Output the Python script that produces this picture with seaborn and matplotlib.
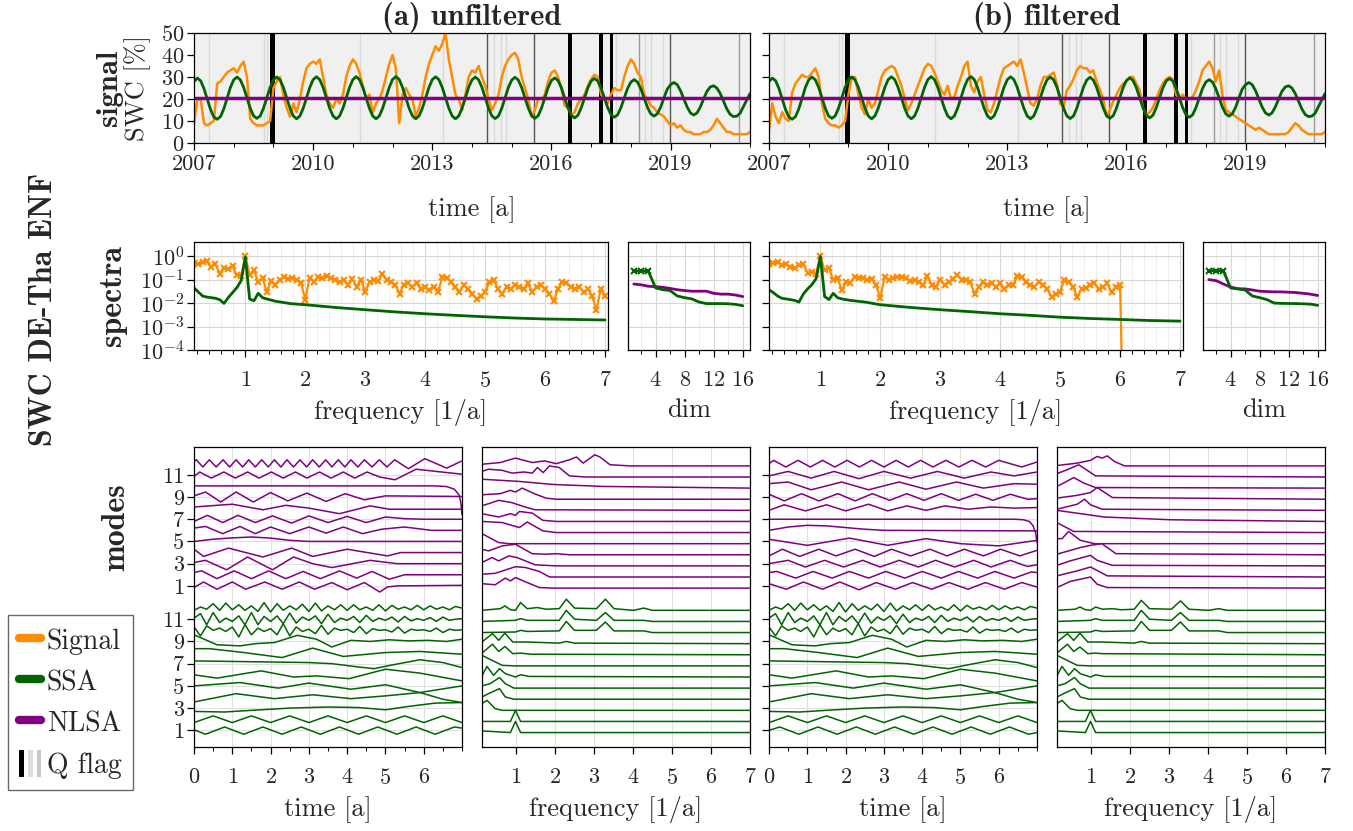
import sys
import numpy as np
import matplotlib
matplotlib.use("Agg")
import matplotlib.pyplot as plt
import seaborn as sns
from matplotlib.lines import Line2D
from matplotlib.patches import Patch
from matplotlib.legend_handler import HandlerTuple
from matplotlib.ticker import MultipleLocator, FixedLocator, NullLocator, LogFormatterSciNotation

sns.set_theme(style="ticks")
plt.rcParams['font.family'] = ['cmr10', 'DejaVu Serif']
plt.rcParams['mathtext.fontset'] = 'cm'
plt.rcParams['axes.formatter.use_mathtext'] = True
plt.rcParams['axes.unicode_minus'] = False

ORANGE = '#ff8c00'
GREEN = '#006400'
PURPLE = '#800080'
BOLD = 'cmb10'
TICK_FS = 16
LABEL_FS = 19
BOLD_FS = 23
TITLE_FS = 22

# ---------------- signal panel data (monthly readings, 2007.0 .. 2021.0) ----------------
signal_unfiltered = [
    9, 20, 20, 9, 8, 9, 10, 27, 28, 30, 32, 33,
    34, 32, 35, 37, 30, 11, 9, 8, 8, 8, 9, 10,
    25, 28, 30, 22, 16, 12, 18, 14, 20, 28, 34, 36,
    37, 36, 38, 30, 22, 18, 16, 20, 18, 22, 30, 35,
    38, 36, 32, 26, 20, 22, 14, 18, 20, 24, 30, 36,
    40, 34, 9, 22, 25, 22, 20, 12, 16, 22, 30, 36,
    40, 44, 42, 45, 50, 38, 30, 22, 20, 15, 22, 30,
    33, 32, 35, 30, 26, 20, 15, 18, 22, 30, 35, 38,
    40, 41, 38, 30, 25, 20, 12, 15, 20, 20, 22, 28,
    32, 33, 30, 25, 17, 16, 13, 14, 18, 20, 22, 26,
    29, 31, 30, 22, 20, 18, 22, 25, 24, 24, 30, 35,
    38, 36, 32, 30, 22, 20, 17, 16, 14, 13, 12, 10,
    8, 9, 7, 8, 6, 5, 5, 4, 4, 4, 5, 5,
    6, 8, 11, 9, 7, 5, 5, 4, 4, 4, 4, 4,
    5]
signal_filtered = [
    6, 18, 12, 9, 14, 11, 10, 23, 27, 29, 31, 30,
    30, 32, 34, 30, 18, 11, 9, 8, 8, 7, 8, 10,
    22, 30, 30, 22, 16, 13, 20, 16, 18, 24, 30, 33,
    34, 35, 34, 30, 26, 20, 15, 18, 22, 26, 30, 34,
    36, 35, 32, 28, 24, 22, 26, 20, 21, 26, 30, 35,
    37, 26, 23, 28, 30, 22, 15, 14, 18, 24, 30, 34,
    35, 36, 37, 35, 38, 32, 25, 18, 17, 20, 26, 30,
    30, 31, 32, 27, 18, 16, 24, 26, 29, 33, 35, 34,
    34, 32, 33, 28, 24, 20, 12, 15, 19, 22, 25, 27,
    28, 30, 30, 27, 24, 16, 13, 14, 16, 20, 24, 27,
    29, 30, 29, 22, 20, 22, 20, 20, 21, 24, 28, 33,
    35, 37, 34, 28, 33, 22, 15, 14, 13, 12, 11, 10,
    9, 8, 7, 6, 7, 6, 5, 4, 4, 4, 4, 4,
    4, 5, 7, 9, 8, 6, 5, 4, 4, 4, 4, 4,
    5]
ssa_signal = [
    28.0, 29.5, 28.3, 24.8, 20.0, 15.2, 11.8, 10.8, 12.0, 15.5, 20.3, 25.3,
    28.7, 30.0, 28.7, 25.3, 20.5, 15.8, 12.3, 11.2, 12.3, 15.8, 20.5, 25.3,
    28.7, 30.0, 28.7, 25.3, 20.5, 15.8, 12.3, 11.0, 12.3, 15.8, 20.5, 25.3,
    28.8, 30.1, 28.8, 25.3, 20.5, 15.8, 12.3, 11.0, 12.3, 15.8, 20.5, 25.3,
    28.8, 30.2, 28.8, 25.3, 20.5, 15.8, 12.3, 11.0, 12.3, 15.8, 20.5, 25.3,
    28.9, 30.2, 28.9, 25.3, 20.5, 15.8, 12.3, 11.0, 12.3, 15.8, 20.5, 25.3,
    28.8, 30.1, 28.8, 25.3, 20.5, 15.8, 12.3, 11.0, 12.3, 15.8, 20.5, 25.3,
    28.7, 30.0, 28.7, 25.3, 20.5, 15.8, 12.3, 11.1, 12.3, 15.8, 20.5, 25.3,
    28.6, 29.9, 28.6, 25.2, 20.5, 15.9, 12.4, 11.2, 12.4, 15.9, 20.5, 25.2,
    28.4, 29.6, 28.4, 25.1, 20.5, 16.0, 12.6, 11.4, 12.6, 16.0, 20.5, 25.0,
    28.2, 29.3, 28.2, 24.9, 20.5, 16.1, 12.8, 11.7, 12.8, 16.1, 20.5, 24.8,
    27.7, 28.8, 27.7, 24.7, 20.5, 16.3, 13.3, 12.2, 13.3, 16.3, 20.5, 24.5,
    26.5, 27.5, 26.5, 23.8, 20.1, 16.4, 13.7, 12.7, 13.7, 16.4, 20.1, 23.5,
    25.5, 26.0, 25.0, 22.5, 19.0, 15.5, 13.0, 12.0, 12.2, 13.5, 16.5, 19.5,
    22.5]
nlsa_signal_time = [2007.0, 2021.0]
nlsa_signal = [20.6, 20.6]

# quality flags
qflag_black = [(2008.92, 2009.03), (2016.41, 2016.51), (2017.19, 2017.31), (2017.48, 2017.55)]
qflag_dark = [2014.39, 2015.55, 2018.99]
qflag_mid = [2018.2, 2020.73]
qflag_light = [2007.39, 2008.76, 2008.85, 2011.17, 2013.27, 2014.55, 2014.72, 2014.85,
               2017.62, 2018.35, 2018.5, 2018.8]
qflag_span = [(2007.0, 2021.0)]

# ---------------- spectra data ----------------
spec_signal_a = [
    0.5, 0.45, 0.55, 0.6, 0.35, 0.45, 0.18, 0.3, 0.28, 0.38, 0.15, 0.14, 1.0,
    0.15, 0.25, 0.08, 0.12, 0.03, 0.09, 0.06, 0.1, 0.13, 0.11, 0.12, 0.1, 0.07, 0.014,
    0.12, 0.08, 0.13, 0.12, 0.14, 0.12, 0.1, 0.08, 0.1, 0.06, 0.11, 0.05, 0.1, 0.03,
    0.08, 0.1, 0.09, 0.17, 0.1, 0.08, 0.06, 0.025, 0.06, 0.07, 0.05, 0.07, 0.04, 0.05,
    0.035, 0.05, 0.03, 0.13, 0.12, 0.08, 0.05, 0.03, 0.06, 0.04, 0.025, 0.015, 0.02, 0.03,
    0.08, 0.1, 0.04, 0.025, 0.05, 0.04, 0.06, 0.05, 0.04, 0.07, 0.03, 0.05, 0.06, 0.04,
    0.025, 0.012, 0.04, 0.08, 0.07, 0.05, 0.04, 0.05, 0.03, 0.04, 0.02, 0.005, 0.04, 0.02]
spec_signal_b = [
    0.45, 0.5, 0.55, 0.4, 0.45, 0.35, 0.3, 0.4, 0.45, 0.2, 0.22, 0.18, 1.0,
    0.25, 0.3, 0.1, 0.12, 0.035, 0.08, 0.075, 0.13, 0.12, 0.12, 0.1, 0.11, 0.06, 0.016,
    0.13, 0.1, 0.12, 0.13, 0.13, 0.12, 0.09, 0.1, 0.08, 0.06, 0.14, 0.06, 0.05, 0.1,
    0.06, 0.08, 0.11, 0.16, 0.1, 0.1, 0.08, 0.025, 0.05, 0.08, 0.06, 0.07, 0.05, 0.07,
    0.04, 0.06, 0.06, 0.14, 0.13, 0.08, 0.06, 0.05, 0.08, 0.06, 0.04, 0.018, 0.025, 0.03,
    0.1, 0.08, 0.05, 0.018, 0.04, 0.045, 0.06, 0.07, 0.04, 0.05, 0.07, 0.03, 0.05, 0.06,
    1e-9]
spec_ssa_freq = [0.143, 0.214, 0.286, 0.357, 0.429, 0.5, 0.571, 0.643, 0.714, 0.786, 0.857,
                 0.929, 1.0, 1.071, 1.143, 1.214, 1.286, 1.357, 1.5, 1.75, 2.0, 2.5, 3.0,
                 3.5, 4.0, 4.5, 5.0, 5.5, 6.0, 6.5, 7.0]
spec_ssa_a = [0.044, 0.03, 0.02, 0.018, 0.017, 0.016, 0.014, 0.0097, 0.017, 0.028, 0.045,
              0.09, 0.9, 0.015, 0.0125, 0.026, 0.017, 0.015, 0.012, 0.0095, 0.0085, 0.0065,
              0.0052, 0.0042, 0.0035, 0.003, 0.0026, 0.0023, 0.0021, 0.002, 0.0019]
spec_ssa_b = [0.037, 0.028, 0.02, 0.016, 0.015, 0.014, 0.013, 0.011, 0.024, 0.04, 0.06,
              0.11, 0.95, 0.019, 0.014, 0.026, 0.017, 0.015, 0.013, 0.011, 0.0085, 0.0065,
              0.0052, 0.0043, 0.0035, 0.003, 0.0025, 0.0022, 0.002, 0.0018, 0.0017]

dims = list(range(1, 17))
dim_ssa_a = [0.23, 0.23, 0.23, 0.044, 0.037, 0.034, 0.02, 0.017, 0.015, 0.011, 0.0095,
             0.0095, 0.0095, 0.0093, 0.0088, 0.0077]
dim_nlsa_a = [0.065, 0.06, 0.052, 0.05, 0.047, 0.042, 0.037, 0.034, 0.032, 0.032, 0.032,
              0.026, 0.024, 0.024, 0.022, 0.019]
dim_ssa_b = [0.24, 0.24, 0.24, 0.044, 0.04, 0.036, 0.02, 0.017, 0.014, 0.01, 0.0097,
             0.0096, 0.0095, 0.0093, 0.009, 0.008]
dim_nlsa_b = [0.1, 0.09, 0.065, 0.048, 0.041, 0.04, 0.036, 0.032, 0.031, 0.03, 0.03,
              0.029, 0.028, 0.026, 0.024, 0.021]

# ---------------- mode data: (time knots, values) per mode 1..12 ----------------
nlsa_time_a = [
    ([0, 0.25, 0.6, 1.0, 1.35, 1.85, 2.3, 2.75, 3.15, 3.6, 4.0, 4.45, 4.85, 5.05, 5.3, 7.0],
     [-0.15, 0.35, -0.3, 0.35, -0.3, 0.35, -0.3, 0.35, -0.3, 0.3, -0.35, 0.3, -0.55, -0.1, 0.0, 0.05]),
    ([0, 0.2, 0.6, 1.05, 1.5, 1.95, 2.4, 2.85, 3.3, 3.8, 4.25, 4.65, 5.1, 5.5, 7.0],
     [0.2, 0.35, -0.35, 0.35, -0.35, 0.35, -0.35, 0.3, -0.35, 0.35, -0.3, 0.3, -0.4, 0.0, 0.0]),
    ([0, 0.3, 0.85, 1.4, 2.05, 2.6, 3.1, 3.6, 4.6, 5.3, 7.0],
     [0.1, 0.3, -0.55, 0.6, -0.55, 0.6, 0.0, -0.35, 0.3, 0.0, 0.0]),
    ([0, 0.25, 0.9, 1.8, 2.55, 3.1, 4.0, 5.05, 5.4, 7.0],
     [0.3, -0.35, 0.4, -0.4, 0.4, -0.35, 0.3, -0.3, 0.0, 0.0]),
    ([0, 0.5, 1.0, 1.5, 2.0, 2.5, 3.0, 7.0],
     [0, 0.2, 0.32, 0.4, 0.3, 0.1, 0, 0]),
    ([0, 0.3, 0.75, 1.2, 1.6, 2.0, 2.5, 3.0, 3.45, 3.9, 4.4, 4.9, 5.5, 6.2, 7.0],
     [0.2, 0.35, -0.3, 0.35, -0.3, 0.3, -0.3, 0.3, -0.25, 0.3, -0.3, 0.1, 0.3, 0, 0]),
    ([0, 0.35, 0.75, 1.15, 1.6, 2.05, 2.55, 3.0, 3.5, 4.0, 4.5, 5.0, 5.5, 6.0, 7.0],
     [-0.2, 0.35, -0.3, 0.35, -0.3, 0.3, -0.35, 0.3, -0.3, 0.25, -0.3, 0.2, 0.05, 0, 0]),
    ([0, 1.0, 1.8, 2.4, 3.0, 3.8, 4.6, 5.1, 7.0],
     [0.1, 0.35, -0.15, 0.25, 0.0, -0.5, 0.2, -0.1, -0.1]),
    ([0, 0.3, 0.7, 1.1, 1.55, 2.0, 2.45, 2.95, 3.45, 3.95, 4.45, 5.0, 7.0],
     [0.1, 0.45, -0.45, 0.45, -0.45, 0.4, -0.35, 0.35, -0.4, 0.3, -0.25, 0.1, 0.05]),
    ([0, 6.3, 6.6, 6.8, 6.92, 6.97, 7.0],
     [0, 0, -0.06, -0.3, -0.8, -1.5, -2.6]),
    ([0, 0.15, 0.45, 0.78, 1.08, 1.4, 1.7, 2.02, 2.33, 2.65, 2.95, 3.28, 3.58, 3.9, 4.2, 4.52, 4.85, 5.25, 5.8, 7.0],
     [-0.15, 0.25, -0.3, 0.25, -0.3, 0.25, -0.3, 0.25, -0.3, 0.25, -0.3, 0.25, -0.3, 0.25, -0.3, 0.25, -0.2, -0.45, 0.5, 0.05]),
    ([0, 0.06, 0.23, 0.4, 0.58, 0.76, 0.93, 1.1, 1.27, 1.43, 1.6, 1.77, 1.94, 2.1, 2.27, 2.43, 2.6, 2.77,
      2.94, 3.1, 3.27, 3.44, 3.6, 3.77, 3.94, 4.1, 4.28, 4.45, 4.65, 4.84, 5.04, 5.24, 5.6, 6.03, 6.6, 7.0],
     [0.2, 0.35, -0.3, 0.35, -0.3, 0.35, -0.3, 0.35, -0.3, 0.35, -0.3, 0.35, -0.3, 0.35, -0.3, 0.35, -0.3, 0.35,
      -0.3, 0.35, -0.3, 0.35, -0.3, 0.35, -0.3, 0.35, -0.3, 0.35, -0.3, 0.35, -0.3, 0.35, -0.45, 0.45, -0.4, 0.25]),
]

fast_t = [0, 0.17, 0.33, 0.5, 0.67, 0.83, 1.0, 1.17, 1.33, 1.5, 1.67, 1.83, 2.0, 2.17, 2.33, 2.5,
          2.67, 2.83, 3.0, 3.17, 3.33, 3.5, 3.67, 3.83, 4.0, 4.17, 4.33, 4.5, 4.67, 4.83, 5.0,
          5.17, 5.33, 5.5, 5.67, 5.83, 6.0, 6.17, 6.33, 6.5, 6.67, 6.83, 7.0]
ssa_g10 = [0.3, -0.5, 0.4, 0.0, 0.2, -0.1, 0.3, -0.6, 0.5, -0.4, 0.2, -0.1, 0.15, -0.4, 0.6, -0.5,
           0.3, -0.1, 0.1, -0.3, 0.45, -0.35, 0.2, 0.0, 0.1, -0.2, 0.35, -0.3, 0.15, 0.0, 0.05,
           -0.15, 0.3, -0.25, 0.1, 0.0, 0.05, -0.1, 0.2, -0.2, 0.1, 0.0, 0.05]
ssa_g11 = [0.1, 0.5, -0.5, 0.6, -0.3, 0.1, -0.2, 0.3, -0.5, 0.6, -0.5, 0.25, -0.2, 0.3, -0.4, 0.55,
           -0.35, 0.2, -0.1, 0.3, -0.4, 0.45, -0.3, 0.1, -0.1, 0.25, -0.3, 0.35, -0.2, 0.1, -0.1,
           0.2, -0.25, 0.25, -0.15, 0.05, -0.1, 0.15, -0.2, 0.2, -0.1, 0.0, 0.05]
ssa_g12 = [-0.2, 0.1, -0.1, 0.4, -0.2, 0.45, -0.15, 0.3, -0.2, 0.2, -0.3, 0.5, -0.35, 0.4, -0.2, 0.2,
           -0.15, 0.35, -0.3, 0.45, -0.25, 0.2, -0.15, 0.3, -0.2, 0.3, -0.15, 0.1, -0.2, 0.3, -0.25,
           0.25, -0.1, 0.1, -0.15, 0.25, -0.15, 0.2, -0.1, 0.1, -0.15, 0.15, 0.0]

ssa_time_a = [
    ([0, 0.3, 0.8, 1.3, 1.8, 2.3, 2.8, 3.3, 3.8, 4.3, 4.8, 5.3, 5.8, 6.3, 6.8, 7.0],
     [0.05, -0.35, 0.3, -0.35, 0.3, -0.35, 0.3, -0.35, 0.3, -0.35, 0.3, -0.35, 0.3, -0.35, 0.3, 0.2]),
    ([0, 0.5, 1.0, 1.5, 2.0, 2.5, 3.0, 3.5, 4.0, 4.5, 5.0, 5.5, 6.0, 6.5, 7.0],
     [-0.3, 0.3, -0.3, 0.3, -0.3, 0.3, -0.3, 0.3, -0.3, 0.3, -0.3, 0.3, -0.3, 0.3, -0.3]),
    ([0, 0.8, 1.5, 2.5, 3.5, 4.3, 5.0, 5.6, 6.3, 7.0],
     [-0.3, -0.35, -0.2, 0.0, 0.1, 0.05, -0.15, 0.15, 0.45, 0.5]),
    ([0, 1.1, 2.1, 3.1, 4.1, 5.0, 5.9, 6.5, 7.0],
     [-0.45, 0.3, -0.15, 0.2, -0.15, 0.1, 0.4, -0.2, -0.5]),
    ([0, 1.2, 2.2, 3.0, 4.1, 5.0, 5.9, 7.0],
     [0, 0.3, -0.2, 0.25, -0.3, 0.1, -0.6, 0.0]),
    ([0, 0.6, 1.75, 2.6, 3.2, 4.05, 5.0, 5.9, 7.0],
     [0, -0.3, 0.35, -0.2, -0.1, -0.35, 0.5, 0.15, -0.55]),
    ([0, 1.0, 2.0, 3.0, 3.6, 4.3, 4.7, 5.2, 5.9, 6.5, 7.0],
     [0.25, 0.2, 0.15, 0.1, 0.0, -0.3, -0.45, -0.1, 0.35, 0.1, -0.35]),
    ([0, 0.4, 1.3, 2.3, 3.1, 3.9, 5.0, 5.9, 7.0],
     [0.35, 0.35, 0.0, -0.45, 0.4, -0.35, 0.0, 0.1, -0.15]),
    ([0, 0.6, 1.2, 1.6, 2.1, 2.7, 3.2, 3.6, 4.1, 4.6, 5.1, 5.6, 6.1, 6.6, 7.0],
     [0.6, -0.3, -0.4, -0.2, -0.1, 0.55, 0.2, -0.5, 0.1, 0.0, 0.15, 0.05, 0.1, 0.0, 0.2]),
    (fast_t, ssa_g10),
    (fast_t, ssa_g11),
    (fast_t, ssa_g12),
]

nlsa_time_b = [
    ([0, 0.45, 0.9, 1.4, 1.85, 2.35, 2.8, 3.3, 3.75, 4.25, 4.7, 5.2, 5.65, 6.15, 6.6, 7.0],
     [0.2, -0.3, 0.35, -0.3, 0.35, -0.35, 0.3, -0.3, 0.3, -0.3, 0.3, -0.3, 0.3, -0.3, 0.3, -0.1]),
    ([0, 0.2, 0.7, 1.15, 1.65, 2.1, 2.6, 3.05, 3.55, 4.0, 4.5, 4.95, 5.45, 5.9, 6.4, 6.85, 7.0],
     [0.2, 0.3, -0.3, 0.3, -0.3, 0.3, -0.3, 0.3, -0.3, 0.3, -0.3, 0.3, -0.3, 0.3, -0.3, 0.25, 0.2]),
    ([0, 0.5, 0.95, 1.45, 1.95, 2.45, 2.9, 3.4, 3.9, 4.35, 4.85, 5.35, 5.8, 6.3, 6.75, 7.0],
     [0.0, 0.3, -0.3, 0.3, -0.3, 0.3, -0.3, 0.3, -0.3, 0.3, -0.3, 0.3, -0.3, 0.3, -0.25, -0.1]),
    ([0, 0.35, 0.8, 1.3, 1.75, 2.25, 2.75, 3.2, 3.7, 4.2, 4.65, 5.1, 5.6, 6.05, 6.55, 7.0],
     [-0.3, 0.3, -0.35, 0.3, -0.3, 0.3, -0.35, 0.3, -0.3, 0.3, -0.3, 0.3, -0.3, 0.3, -0.3, 0.2]),
    ([0, 1.0, 2.1, 3.1, 4.1, 5.0, 6.0, 7.0],
     [0.2, -0.35, 0.3, -0.35, 0.25, -0.2, -0.4, 0.1]),
    ([0, 0.5, 1.0, 1.5, 2.0, 2.5, 3.0, 7.0],
     [0.0, 0.3, 0.45, 0.4, 0.25, 0.1, 0.0, -0.05]),
    ([0, 6.4, 6.65, 6.8, 6.9, 6.97, 7.0],
     [0, 0, -0.05, -0.2, -0.6, -1.3, -2.1]),
    ([0, 0.4, 0.95, 1.5, 2.0, 2.6, 3.1, 3.6, 4.1, 4.6, 5.2, 5.8, 6.4, 7.0],
     [-0.2, 0.3, -0.25, 0.3, -0.25, 0.35, -0.25, 0.2, -0.2, 0.2, -0.1, 0.1, 0.0, 0.05]),
    ([0, 0.4, 0.85, 1.3, 1.8, 2.25, 2.7, 3.15, 3.6, 4.05, 4.5, 4.95, 5.4, 5.85, 6.3, 6.75, 7.0],
     [0.25, -0.35, 0.3, -0.35, 0.3, -0.35, 0.3, -0.3, 0.3, -0.3, 0.3, -0.3, 0.25, -0.3, 0.25, -0.2, -0.15]),
    ([0, 0.5, 1.1, 1.9, 2.6, 3.4, 4.1, 4.9, 5.6, 6.4, 7.0],
     [0.2, 0.35, -0.35, 0.35, -0.35, 0.35, -0.3, 0.35, -0.2, 0.2, 0.15]),
    ([0, 0.5, 1.1, 1.7, 2.35, 3.0, 3.7, 4.4, 5.1, 5.8, 6.4, 7.0],
     [-0.1, 0.3, -0.3, 0.3, -0.35, 0.3, -0.3, 0.3, -0.3, 0.25, -0.1, 0.25]),
    ([0, 0.12, 0.44, 0.76, 1.08, 1.4, 1.72, 2.04, 2.36, 2.68, 3.0, 3.32, 3.64, 3.96, 4.28, 4.62,
      4.96, 5.3, 5.66, 6.0, 6.6, 7.0],
     [0.0, 0.3, -0.3, 0.3, -0.3, 0.3, -0.3, 0.3, -0.3, 0.3, -0.3, 0.3, -0.3, 0.3, -0.3, 0.3,
      -0.3, 0.3, -0.3, 0.3, -0.3, 0.15]),
]

ssa_time_b = [
    ([0, 0.28, 0.78, 1.28, 1.78, 2.28, 2.78, 3.28, 3.78, 4.28, 4.78, 5.28, 5.78, 6.28, 6.78, 7.0],
     [0.0, 0.3, -0.35, 0.3, -0.35, 0.3, -0.35, 0.3, -0.35, 0.3, -0.35, 0.3, -0.35, 0.3, -0.35, -0.2]),
] + ssa_time_a[1:]

# spectra of modes: (frequency knots, relative height)
nlsa_freq_a = [
    ([0.14, 0.48, 0.74, 0.87, 1.0, 1.3, 1.61, 1.95, 7], [0.4, 0.3, 0.9, 0.65, 0.95, 0.5, 0.05, 0.0, 0.0]),
    ([0.14, 0.48, 1.0, 1.26, 1.61, 1.87, 7], [0.25, 0.33, 0.93, 0.85, 0.5, 0.0, 0.0]),
    ([0.14, 0.4, 0.57, 0.83, 1.04, 1.5, 2.04, 7], [0.3, 0.75, 0.45, 0.9, 0.75, 0.1, 0.0, 0.0]),
    ([0.14, 0.31, 0.66, 1.0, 1.22, 1.43, 1.78, 2.04, 2.38, 7], [0.5, 0.35, 0.8, 0.95, 0.5, 0.1, 0.05, 0.1, 0.0, 0.0]),
    ([0.14, 0.57, 0.83, 7], [0.9, 0.1, 0.0, 0.0]),
    ([0.14, 0.66, 1.1, 1.3, 1.7, 2.04, 7], [1.0, 0.9, 0.45, 0.95, 0.15, 0.0, 0.0]),
    ([0.14, 0.57, 0.87, 1.0, 1.1, 1.43, 1.7, 2.04, 7], [0.7, 0.4, 0.7, 0.55, 0.9, 0.75, 0.1, 0.0, 0.0]),
    ([0.14, 0.57, 0.9, 1.2, 1.5, 7], [0.4, 0.9, 0.7, 0.35, 0.05, 0.0]),
    ([0.14, 0.61, 0.87, 1.0, 1.17, 1.48, 1.78, 2.04, 7], [0.4, 0.5, 0.8, 0.65, 1.0, 0.5, 0.1, 0.0, 0.0]),
    ([0.14, 1.1, 1.95, 3.25, 7], [0.8, 0.6, 0.33, 0.15, 0.0]),
    ([0.14, 0.31, 0.66, 0.91, 1.22, 1.43, 1.56, 1.71, 1.87, 2.12, 2.38, 2.8, 7],
     [0.5, 0.7, 0.6, 0.35, 0.45, 0.35, 0.85, 0.4, 1.0, 0.85, 0.1, 0.0, 0.0]),
    ([0.14, 0.61, 1.0, 1.43, 1.74, 2.04, 2.38, 2.56, 2.73, 3.03, 3.16, 3.42, 3.94, 7],
     [0.15, 0.3, 0.7, 0.3, 0.45, 0.2, 0.55, 0.8, 0.25, 1.0, 0.8, 0.1, 0.0, 0.0]),
]
ssa_freq_a = [
    ([0.14, 0.87, 1.0, 1.13, 7], [0.15, 0.0, 1.0, 0.0, 0.0]),
    ([0.14, 0.87, 1.0, 1.13, 7], [0.0, 0.0, 1.0, 0.0, 0.0]),
    ([0.14, 0.27, 0.48, 0.66, 7], [0.6, 0.9, 0.15, 0.0, 0.0]),
    ([0.14, 0.31, 0.59, 0.74, 0.96, 7], [0.2, 0.5, 0.95, 0.2, 0.0, 0.0]),
    ([0.14, 0.35, 0.59, 0.74, 0.96, 7], [0.2, 0.4, 0.95, 0.4, 0.0, 0.0]),
    ([0.14, 0.27, 0.44, 0.59, 0.74, 1.0, 1.13, 1.35, 7], [0.1, 0.95, 0.15, 0.75, 0.3, 0.0, 0.2, 0.05, 0.0]),
    ([0.14, 0.4, 0.66, 1.0, 7], [0.95, 0.5, 0.05, 0.0, 0.0]),
    ([0.14, 0.41, 0.57, 0.73, 0.93, 1.13, 1.4, 7], [0.15, 0.95, 0.3, 0.75, 0.1, 0.15, 0.05, 0.0]),
    ([0.14, 0.41, 0.57, 0.73, 0.93, 1.3, 2.12, 2.3, 2.51, 7], [0.15, 0.9, 0.3, 0.95, 0.15, 0.15, 0.05, 0.2, 0.05, 0.0]),
    ([0.14, 1.0, 1.13, 1.3, 2.12, 2.3, 2.51, 3.07, 3.3, 3.52, 4.28, 4.5, 7],
     [0.0, 0.05, 0.2, 0.1, 0.15, 1.0, 0.2, 0.2, 0.95, 0.15, 0.15, 0.0, 0.0]),
    ([0.14, 1.0, 1.13, 1.3, 2.12, 2.3, 2.51, 3.07, 3.3, 3.52, 4.28, 4.5, 7],
     [0.0, 0.1, 0.25, 0.1, 0.1, 1.0, 0.2, 0.1, 0.8, 0.1, 0.1, 0.0, 0.0]),
    ([0.14, 0.61, 0.73, 0.87, 1.0, 1.13, 1.3, 1.56, 1.78, 2.12, 2.3, 2.51, 3.07, 3.3, 3.52, 4.02, 4.28, 4.5, 7],
     [0.0, 0.15, 0.4, 0.05, 0.0, 0.7, 0.15, 0.25, 0.1, 0.15, 1.0, 0.2, 0.15, 1.0, 0.15, 0.0, 0.2, 0.0, 0.0]),
]
nlsa_freq_b = [
    ([0.14, 0.48, 1.0, 1.17, 1.43, 7], [0.05, 0.6, 1.0, 0.35, 0.05, 0.0]),
    ([0.14, 0.31, 0.66, 1.0, 1.43, 7], [0.1, 0.25, 0.55, 0.9, 0.1, 0.0]),
    ([0.14, 0.48, 1.0, 1.17, 1.56, 7], [0.05, 0.45, 0.95, 0.5, 0.05, 0.0]),
    ([0.14, 0.74, 1.0, 1.29, 1.65, 7], [0.05, 0.65, 0.85, 1.0, 0.1, 0.0]),
    ([0.14, 0.27, 0.44, 0.74, 1.1, 7], [0.45, 0.45, 1.1, 0.3, 0.0, 0.0]),
    ([0.14, 0.57, 7], [0.9, 0.1, 0.0]),
    ([0.14, 1.35, 3.07, 7], [1.0, 0.4, 0.15, 0.0]),
    ([0.14, 0.66, 0.85, 1.0, 1.3, 7], [0.1, 0.55, 1.0, 0.5, 0.1, 0.0]),
    ([0.14, 0.66, 1.0, 1.17, 1.56, 7], [0.1, 0.35, 0.6, 1.05, 0.15, 0.0]),
    ([0.14, 0.31, 0.57, 0.83, 1.13, 7], [0.15, 0.45, 0.95, 0.45, 0.05, 0.0]),
    ([0.14, 0.4, 0.7, 1.13, 7], [0.3, 0.65, 1.1, 0.1, 0.0]),
    ([0.14, 0.66, 1.0, 1.17, 1.3, 1.43, 1.61, 1.87, 7], [0.03, 0.25, 0.5, 0.85, 0.7, 0.9, 0.4, 0.0, 0.0]),
]
ssa_freq_b = ssa_freq_a[:7] + [
    ([0.14, 0.41, 0.57, 0.73, 0.93, 1.13, 1.3, 7], [0.15, 0.95, 0.3, 0.7, 0.1, 0.15, 0.1, 0.0]),
] + ssa_freq_a[8:11] + [
    ([0.14, 0.61, 0.73, 0.87, 1.0, 1.13, 1.3, 1.56, 1.78, 2.12, 2.3, 2.51, 3.07, 3.3, 3.52, 4.02, 4.28, 4.5, 7],
     [0.0, 0.1, 0.3, 0.05, 0.0, 0.3, 0.1, 0.15, 0.05, 0.1, 0.9, 0.15, 0.1, 0.85, 0.1, 0.0, 0.15, 0.0, 0.0]),
]

years_major = [2007, 2010, 2013, 2016, 2019]
mode_tick_labels = ['1', '3', '5', '7', '9', '11']
NLSA_SHIFT = 13

# ---------------- layout ----------------
W, H = 1353, 831
fig = plt.figure(figsize=(W / 100, H / 100), dpi=100)


def rect(x0, y0, x1, y1):
    return [x0 / W, 1 - y1 / H, (x1 - x0) / W, (y1 - y0) / H]


def line(ax, x, y, color, lw, **kw):
    x = list(x)
    y = list(y)
    n = min(len(x), len(y))
    if len(x) != len(y):
        print('length mismatch', len(x), len(y), file=sys.stderr)
    sns.lineplot(x=x[:n], y=y[:n], ax=ax, color=color, linewidth=lw, legend=False,
                 estimator=None, sort=False, **kw)


def style_axis(ax):
    for s in ax.spines.values():
        s.set_color('black')
        s.set_linewidth(0.9)
    ax.tick_params(which='major', direction='out', length=5, width=0.9, labelsize=TICK_FS, color='black')
    ax.tick_params(which='minor', direction='out', length=3, width=0.7, color='black')


def signal_panel(ax, sig, title):
    for (a, b) in qflag_span:
        ax.axvspan(a, b, color='#f0f0f0', lw=0, zorder=0)
    for x in qflag_light:
        ax.axvline(x, color='#dadada', lw=1.0, zorder=0.5)
    for x in qflag_mid:
        ax.axvline(x, color='#9a9a9a', lw=1.0, zorder=0.6)
    for x in qflag_dark:
        ax.axvline(x, color='#555555', lw=1.0, zorder=0.7)
    for (a, b) in qflag_black:
        ax.axvspan(a, b, color='black', lw=0, zorder=0.8)
    t = 2007 + np.arange(len(sig)) / 12.0
    line(ax, t, sig, ORANGE, 1.8)
    t2 = 2007 + np.arange(len(ssa_signal)) / 12.0
    line(ax, t2, ssa_signal, GREEN, 2.0)
    line(ax, nlsa_signal_time, nlsa_signal, PURPLE, 2.5)
    ax.set_xlim(2007, 2021)
    ax.set_ylim(0, 50)
    ax.set_xticks(years_major)
    ax.set_xticklabels([str(y) for y in years_major])
    ax.xaxis.set_minor_locator(MultipleLocator(1))
    ax.set_yticks([0, 10, 20, 30, 40, 50])
    style_axis(ax)
    ax.tick_params(axis='x', which='major', pad=3)
    ax.tick_params(axis='y', which='major', pad=2)
    ax.set_xlabel('time [a]', fontsize=LABEL_FS, labelpad=16)
    ax.set_ylabel('')
    ax.set_title(title, fontfamily=BOLD, fontsize=TITLE_FS, pad=3)


def spectrum_panel(ax, spec_sig, spec_ssa, show_ylabels):
    f = np.arange(2, 2 + len(spec_sig)) / 14.0
    line(ax, f, spec_sig, ORANGE, 1.6, marker='x', markersize=5, markeredgewidth=1.5,
         markeredgecolor=ORANGE)
    line(ax, spec_ssa_freq, spec_ssa, GREEN, 2.0)
    ax.set_yscale('log')
    ax.set_ylim(1e-4, 4)
    ax.set_xlim(1 / 7, 7.05)
    ax.set_xticks([1, 2, 3, 4, 5, 6, 7])
    ax.xaxis.set_minor_locator(MultipleLocator(0.2))
    ax.yaxis.set_major_locator(FixedLocator([1e-4, 1e-3, 1e-2, 1e-1, 1e0]))
    ax.yaxis.set_major_formatter(LogFormatterSciNotation())
    ax.yaxis.set_minor_locator(NullLocator())
    ax.grid(True, which='major', color='#d8d8d8', lw=0.8)
    ax.grid(True, which='minor', axis='x', color='#ececec', lw=0.6)
    style_axis(ax)
    ax.tick_params(axis='x', which='major', pad=10)
    ax.tick_params(axis='y', which='major', pad=2)
    if not show_ylabels:
        ax.tick_params(axis='y', labelleft=False)
    ax.set_xlabel('frequency [1/a]', fontsize=LABEL_FS, labelpad=6)
    ax.set_ylabel('')


def dim_panel(ax, d_ssa, d_nlsa):
    line(ax, dims, d_nlsa, PURPLE, 2.0)
    line(ax, dims, d_ssa, GREEN, 2.0, marker='x', markersize=5, markeredgewidth=1.5,
         markeredgecolor=GREEN, markevery=[0, 1, 2])
    ax.set_yscale('log')
    ax.set_ylim(1e-4, 4)
    ax.set_xlim(0.2, 17)
    ax.set_xticks([4, 8, 12, 16])
    ax.xaxis.set_minor_locator(MultipleLocator(2))
    ax.yaxis.set_major_locator(FixedLocator([1e-4, 1e-3, 1e-2, 1e-1, 1e0]))
    ax.yaxis.set_minor_locator(NullLocator())
    ax.grid(True, which='major', color='#d8d8d8', lw=0.8)
    ax.grid(True, which='minor', axis='x', color='#ececec', lw=0.6)
    style_axis(ax)
    ax.tick_params(axis='x', which='major', pad=10)
    ax.tick_params(axis='y', labelleft=False, length=0)
    ax.set_xlabel('dim', fontsize=LABEL_FS, labelpad=6)
    ax.set_ylabel('')


def mode_time_panel(ax, ssa_modes, nlsa_modes, show_ylabels):
    for k, (t, v) in enumerate(ssa_modes, start=1):
        line(ax, t, np.asarray(v) + k, GREEN, 1.1)
    for k, (t, v) in enumerate(nlsa_modes, start=1):
        line(ax, t, np.asarray(v) + k + NLSA_SHIFT, PURPLE, 1.1)
    ax.set_xlim(0, 7)
    ax.set_ylim(-0.5, 26.5)
    ax.set_xticks([0, 1, 2, 3, 4, 5, 6])
    ax.xaxis.set_minor_locator(MultipleLocator(0.5))
    pos = [1, 3, 5, 7, 9, 11] + [p + NLSA_SHIFT for p in [1, 3, 5, 7, 9, 11]]
    ax.set_yticks(pos)
    ax.set_yticklabels(mode_tick_labels + mode_tick_labels)
    ax.grid(True, which='major', color='#e0e0e0', lw=0.8)
    style_axis(ax)
    ax.tick_params(axis='x', which='major', pad=10)
    ax.tick_params(axis='y', which='major', pad=2)
    if not show_ylabels:
        ax.tick_params(axis='y', labelleft=False)
    ax.set_xlabel('time [a]', fontsize=LABEL_FS, labelpad=6)
    ax.set_ylabel('')


def mode_freq_panel(ax, ssa_modes, nlsa_modes):
    for k, (f, h) in enumerate(ssa_modes, start=1):
        line(ax, f, np.asarray(h) + k - 0.2, GREEN, 1.1)
    for k, (f, h) in enumerate(nlsa_modes, start=1):
        line(ax, f, np.asarray(h) + k + NLSA_SHIFT - 0.2, PURPLE, 1.1)
    ax.set_xlim(1 / 7, 7)
    ax.set_ylim(-0.5, 26.5)
    ax.set_xticks([1, 2, 3, 4, 5, 6, 7])
    ax.set_yticks([])
    ax.grid(True, which='major', axis='x', color='#e0e0e0', lw=0.8)
    style_axis(ax)
    ax.tick_params(axis='x', which='major', pad=10)
    ax.set_xlabel('frequency [1/a]', fontsize=LABEL_FS, labelpad=6)
    ax.set_ylabel('')


cols = [
    dict(x0=194, x1=750, spec1=608, dim0=628, t1=462, f0=482),
    dict(x0=769, x1=1325, spec1=1183, dim0=1203, t1=1037, f0=1057),
]
titles = ['(a) unfiltered', '(b) filtered']
signals = [signal_unfiltered, signal_filtered]
specs = [spec_signal_a, spec_signal_b]
specs_ssa = [spec_ssa_a, spec_ssa_b]
dims_ssa = [dim_ssa_a, dim_ssa_b]
dims_nlsa = [dim_nlsa_a, dim_nlsa_b]
ssa_t = [ssa_time_a, ssa_time_b]
nlsa_t = [nlsa_time_a, nlsa_time_b]
ssa_f = [ssa_freq_a, ssa_freq_b]
nlsa_f = [nlsa_freq_a, nlsa_freq_b]

for i, c in enumerate(cols):
    ax = fig.add_axes(rect(c['x0'], 33, c['x1'], 143))
    signal_panel(ax, signals[i], titles[i])
    if i == 1:
        ax.tick_params(axis='y', labelleft=False)
    ax = fig.add_axes(rect(c['x0'], 242, c['spec1'], 350))
    spectrum_panel(ax, specs[i], specs_ssa[i], i == 0)
    ax = fig.add_axes(rect(c['dim0'], 242, c['x1'], 350))
    dim_panel(ax, dims_ssa[i], dims_nlsa[i])
    ax = fig.add_axes(rect(c['x0'], 447, c['t1'], 747))
    mode_time_panel(ax, ssa_t[i], nlsa_t[i], i == 0)
    ax = fig.add_axes(rect(c['f0'], 447, c['x1'], 747))
    mode_freq_panel(ax, ssa_f[i], nlsa_f[i])

# row labels
fig.text(110 / W, 1 - 88 / H, 'signal', rotation=90, fontfamily=BOLD, fontsize=BOLD_FS - 1, ha='center', va='center')
fig.text(138 / W, 1 - 88 / H, 'SWC [%]', rotation=90, fontsize=LABEL_FS, ha='center', va='center')
fig.text(113 / W, 1 - 296 / H, 'spectra', rotation=90, fontfamily=BOLD, fontsize=BOLD_FS, ha='center', va='center')
fig.text(116 / W, 1 - 527 / H, 'modes', rotation=90, fontfamily=BOLD, fontsize=BOLD_FS, ha='center', va='center')
fig.text(44 / W, 1 - 310 / H, 'SWC DE-Tha ENF', rotation=90, fontfamily=BOLD, fontsize=BOLD_FS, ha='center', va='center')

# legend
h_sig = Line2D([], [], color=ORANGE, lw=6)
h_ssa = Line2D([], [], color=GREEN, lw=6)
h_nlsa = Line2D([], [], color=PURPLE, lw=6)
h_q = (Patch(facecolor='black', edgecolor='none'), Patch(facecolor='#dcdcdc', edgecolor='none'),
       Patch(facecolor='#c8c8c8', edgecolor='none'))
leg = fig.legend([h_sig, h_ssa, h_nlsa, h_q], ['Signal', 'SSA', 'NLSA', 'Q flag'],
                 handler_map={tuple: HandlerTuple(ndivide=None, pad=0.15)},
                 loc='lower left', bbox_to_anchor=(8 / W, 1 - 790 / H), frameon=True,
                 fancybox=False, fontsize=20, handlelength=0.8, handleheight=1.1,
                 handletextpad=0.2, labelspacing=0.45, borderpad=0.4, borderaxespad=0)
leg.get_frame().set_edgecolor('#444444')
leg.get_frame().set_linewidth(1.0)

fig.savefig('out.png', dpi=100)
